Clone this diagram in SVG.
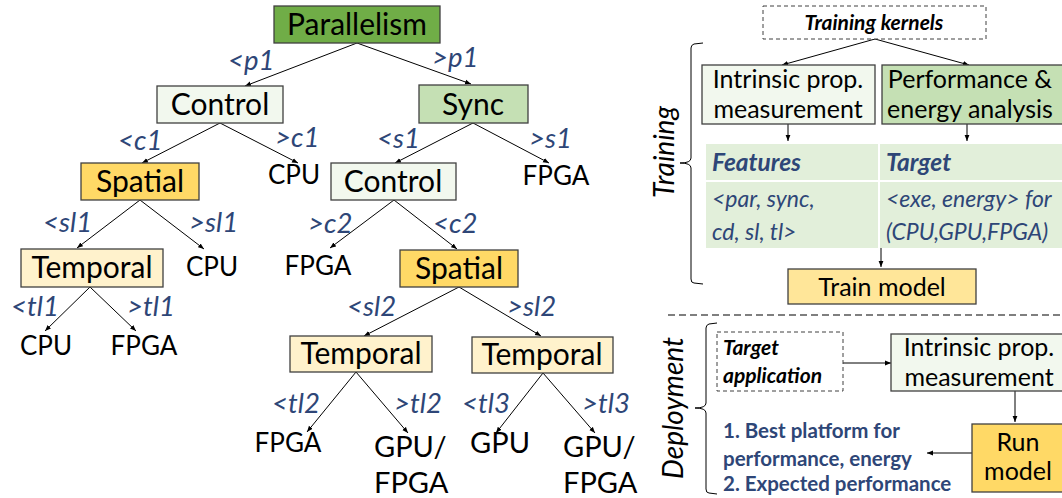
<svg xmlns="http://www.w3.org/2000/svg" width="1062" height="498" viewBox="0 0 1062 498">
<defs>
<marker id="a" viewBox="0 0 10 10" refX="10" refY="5" markerWidth="6" markerHeight="6" orient="auto" markerUnits="userSpaceOnUse"><path d="M0,1 L10,5 L0,9 z" fill="#000"/></marker>
<style>
.n{stroke:#404040;stroke-width:1.3}
text{font-family:Lato,"Liberation Sans",sans-serif;fill:#000}
.node{font-size:30px;text-anchor:middle}
.leaf{font-size:26px;text-anchor:middle}
.big{font-size:29px}
.lbl{font-size:27.5px;font-style:italic;fill:#2E4677}
.e{stroke:#000;stroke-width:1;fill:none;marker-end:url(#a)}
.dash{fill:#fff;stroke:#404040;stroke-width:1;stroke-dasharray:4,3}
.bi{font-weight:bold;font-style:italic}
.box{font-size:25px;text-anchor:middle}
.blue{fill:#2E4677}
.g1{fill:#70AD47}.g2{fill:#C5E0B4}.g3{fill:#F2F8EE}.y1{fill:#FFD966}.y2{fill:#FFF2CC}.y3{fill:#FFE699}
</style>
</defs>

<g id="connectors">
<line class="e" x1="357" y1="43" x2="245" y2="86"/>
<line class="e" x1="357" y1="43" x2="471" y2="84"/>
<line class="e" x1="220" y1="123" x2="142" y2="163"/>
<line class="e" x1="220" y1="123" x2="298" y2="163"/>
<line class="e" x1="140" y1="200" x2="77" y2="248"/>
<line class="e" x1="140" y1="200" x2="204" y2="249"/>
<line class="e" x1="90" y1="287" x2="45" y2="331"/>
<line class="e" x1="90" y1="287" x2="136" y2="331"/>
<line class="e" x1="473" y1="123" x2="395" y2="163"/>
<line class="e" x1="473" y1="123" x2="549" y2="163"/>
<line class="e" x1="394" y1="200" x2="330" y2="248"/>
<line class="e" x1="394" y1="200" x2="457" y2="249"/>
<line class="e" x1="459" y1="287" x2="364" y2="336"/>
<line class="e" x1="459" y1="287" x2="541" y2="336"/>
<line class="e" x1="356" y1="372" x2="307" y2="432"/>
<line class="e" x1="356" y1="372" x2="408" y2="433"/>
<line class="e" x1="543" y1="373" x2="496" y2="433"/>
<line class="e" x1="543" y1="373" x2="595" y2="433"/>
<line class="e" x1="875" y1="39" x2="782" y2="65"/>
<line class="e" x1="875" y1="39" x2="969" y2="65"/>
<line class="e" x1="788" y1="124" x2="788" y2="141"/>
<line class="e" x1="967" y1="124" x2="967" y2="141"/>
<line class="e" x1="881" y1="248" x2="881" y2="267"/>
<line class="e" x1="833" y1="363" x2="891" y2="363"/>
<line class="e" x1="1015" y1="391" x2="1015" y2="422"/>
<line class="e" x1="972" y1="453" x2="927" y2="453"/>
</g>

<g id="parallelism"><rect class="n g1" x="274" y="6" width="166" height="37"/><text class="node" x="357" y="35">Parallelism</text></g>
<g id="control1"><rect class="n g3" x="157" y="86" width="126" height="37"/><text class="node" x="220" y="115">Control</text></g>
<g id="sync"><rect class="n g2" x="419" y="85" width="109" height="38"/><text class="node" x="473" y="115">Sync</text></g>
<g id="spatial1"><rect class="n y1" x="81" y="163" width="118" height="37"/><text class="node" x="140" y="192">Spatial</text></g>
<g id="temporal1"><rect class="n y2" x="21" y="249" width="142" height="38"/><text class="node" x="92" y="278">Temporal</text></g>
<g id="control2"><rect class="n g3" x="331" y="163" width="125" height="37"/><text class="node" x="393" y="192">Control</text></g>
<g id="spatial2"><rect class="n y1" x="400" y="250" width="118" height="37"/><text class="node" x="459" y="279">Spatial</text></g>
<g id="temporal2"><rect class="n y2" x="290" y="336" width="142" height="36"/><text class="node" x="361" y="364">Temporal</text></g>
<g id="temporal3"><rect class="n y2" x="472" y="337" width="141" height="36"/><text class="node" x="542" y="365">Temporal</text></g>

<g id="leaves">
<text class="leaf" x="294" y="184">CPU</text>
<text class="leaf" x="212" y="276">CPU</text>
<text class="leaf" x="46" y="355">CPU</text>
<text class="leaf" x="144" y="355">FPGA</text>
<text class="leaf" x="556" y="185">FPGA</text>
<text class="leaf" x="318" y="275">FPGA</text>
<text class="leaf" x="288" y="452">FPGA</text>
<text class="leaf big" x="500" y="453">GPU</text>
<text class="big" x="374" y="457">GPU/</text>
<text class="big" x="374" y="493">FPGA</text>
<text class="big" x="563" y="457">GPU/</text>
<text class="big" x="563" y="493">FPGA</text>
</g>

<g id="edge-labels">
<text class="lbl" x="228" y="70">&lt;p1</text>
<text class="lbl" x="432" y="67">&gt;p1</text>
<text class="lbl" x="118" y="150">&lt;c1</text>
<text class="lbl" x="275" y="147">&gt;c1</text>
<text class="lbl" x="43" y="232">&lt;sl1</text>
<text class="lbl" x="189" y="232">&gt;sl1</text>
<text class="lbl" x="11" y="316">&lt;tl1</text>
<text class="lbl" x="127" y="316">&gt;tl1</text>
<text class="lbl" x="377" y="148">&lt;s1</text>
<text class="lbl" x="529" y="148">&gt;s1</text>
<text class="lbl" x="308" y="233">&gt;c2</text>
<text class="lbl" x="433" y="233">&lt;c2</text>
<text class="lbl" x="347" y="316">&lt;sl2</text>
<text class="lbl" x="507" y="316">&gt;sl2</text>
<text class="lbl" x="272" y="413">&lt;tl2</text>
<text class="lbl" x="394" y="413">&gt;tl2</text>
<text class="lbl" x="462" y="413">&lt;tl3</text>
<text class="lbl" x="582" y="413">&gt;tl3</text>
</g>

<g id="training-kernels"><rect class="dash" x="763" y="6" width="223" height="33"/><text class="bi" x="874" y="30" font-size="21" text-anchor="middle">Training kernels</text></g>
<g id="training-brace"><path d="M703,43 L694,44 Q691,45 691,48 L691,158 Q691,163 680,163 Q691,163 691,168 L691,279 Q691,283 694,283 L703,284" fill="none" stroke="#000" stroke-width="1"/><text x="0" y="0" font-size="28" font-style="italic" text-anchor="middle" transform="translate(674,152) rotate(-90)">Training</text></g>
<g id="intrinsic1"><rect class="n g3" x="702" y="65" width="173" height="59"/><text class="box" x="788" y="88">Intrinsic prop.</text><text class="box" x="788" y="118">measurement</text></g>
<g id="perf"><rect class="n g2" x="882" y="65" width="186" height="59"/><text class="box" x="970" y="88">Performance &amp;</text><text class="box" x="970" y="118">energy analysis</text></g>
<g id="table">
<rect x="706" y="144" width="172" height="36" fill="#E2EFDA"/>
<rect x="880" y="144" width="190" height="36" fill="#E2EFDA"/>
<rect x="706" y="182" width="172" height="66" fill="#E2EFDA"/>
<rect x="880" y="182" width="190" height="66" fill="#E2EFDA"/>
<text class="bi blue" x="712" y="171" font-size="24.5">Features</text>
<text class="bi blue" x="886" y="171" font-size="24.5">Target</text>
<text class="blue" x="712" y="207" font-size="23" font-style="italic">&lt;par, sync,</text>
<text class="blue" x="712" y="240" font-size="23" font-style="italic">cd, sl, tl&gt;</text>
<text class="blue" x="886" y="207" font-size="23" font-style="italic">&lt;exe, energy&gt; for</text>
<text class="blue" x="886" y="240" font-size="23" font-style="italic">(CPU,GPU,FPGA)</text>
</g>
<g id="train-model"><rect class="n y3" x="788" y="269" width="188" height="35"/><text class="box" x="882" y="296">Train model</text></g>
<line x1="668" y1="315" x2="1062" y2="315" stroke="#555" stroke-width="1.3" stroke-dasharray="7,4"/>
<g id="deployment-brace"><path d="M717,323 L709,324 Q706,325 706,328 L706,403 Q706,408 695,408 Q706,408 706,413 L706,489 Q706,493 709,493 L717,494" fill="none" stroke="#000" stroke-width="1"/><text x="0" y="0" font-size="28" font-style="italic" text-anchor="middle" transform="translate(683,408) rotate(-90)">Deployment</text></g>
<g id="target-app"><rect class="dash" x="717" y="332" width="126" height="59"/><text class="bi" x="723" y="355" font-size="21">Target</text><text class="bi" x="723" y="383" font-size="21">application</text></g>
<g id="intrinsic2"><rect class="n g3" x="891" y="334" width="177" height="57"/><text class="box" x="979" y="356">Intrinsic prop.</text><text class="box" x="979" y="386">measurement</text></g>
<g id="run-model"><rect class="n y1" x="972" y="424" width="96" height="68"/><text class="box" x="1018" y="451">Run</text><text class="box" x="1018" y="480">model</text></g>
<g id="output-text">
<text class="blue" x="723" y="438" font-size="20.5" font-weight="bold">1. Best platform for</text>
<text class="blue" x="723" y="466" font-size="20.5" font-weight="bold">performance, energy</text>
<text class="blue" x="723" y="491" font-size="20.5" font-weight="bold">2. Expected performance</text>
</g>
</svg>
